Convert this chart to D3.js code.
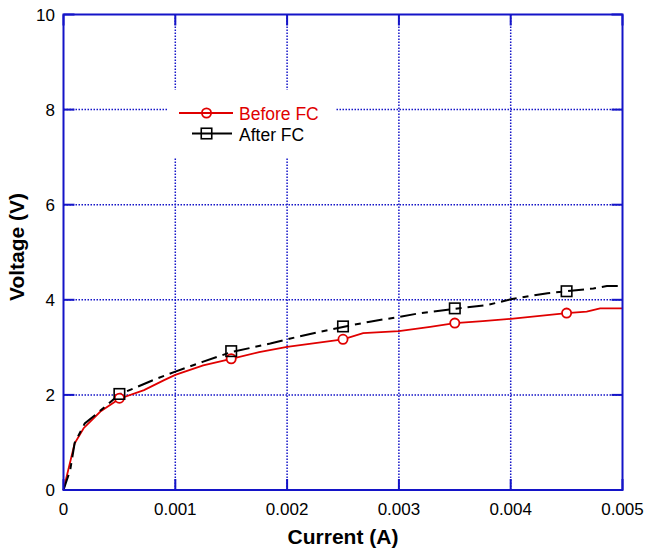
<!DOCTYPE html>
<html>
<head>
<meta charset="utf-8">
<script src="https://cdn.jsdelivr.net/npm/d3@7"></script>
<style>
  html, body { margin: 0; padding: 0; background: #fff; }
  svg { display: block; }
  text { font-family: "Liberation Sans", Arial, Helvetica, sans-serif; }
</style>
</head>
<body>
<svg id="chart" width="647" height="551"></svg>
<script>
// ---- data ----
const currentBefore = [0, 0.00003, 0.0001, 0.00018, 0.00033, 0.0005, 0.00072, 0.0009, 0.001, 0.00125, 0.0015, 0.00175, 0.002, 0.00225, 0.0025, 0.00268, 0.003, 0.00328, 0.0035, 0.00375, 0.004, 0.0045, 0.00468, 0.0048, 0.005];
const voltageBefore = [0, 0.30, 0.98, 1.30, 1.65, 1.92, 2.10, 2.31, 2.42, 2.62, 2.76, 2.90, 3.01, 3.09, 3.17, 3.30, 3.34, 3.43, 3.51, 3.55, 3.60, 3.72, 3.75, 3.82, 3.82];
const currentAfter = [0, 0.00003, 0.00006, 0.0001, 0.00019, 0.0003, 0.0005, 0.00066, 0.0008, 0.001, 0.00125, 0.0015, 0.00185, 0.002, 0.0023, 0.0025, 0.00274, 0.003, 0.00319, 0.0035, 0.00379, 0.004, 0.00433, 0.0045, 0.00474, 0.00486, 0.005];
const voltageAfter = [0, 0.21, 0.42, 0.99, 1.40, 1.61, 2.01, 2.17, 2.31, 2.49, 2.70, 2.90, 3.08, 3.17, 3.33, 3.43, 3.54, 3.64, 3.72, 3.81, 3.89, 4.01, 4.14, 4.18, 4.24, 4.29, 4.29];
const markerCurrent = [0.0005, 0.0015, 0.0025, 0.0035, 0.0045];
const markerBefore = [1.93, 2.76, 3.17, 3.51, 3.72];
const markerAfter = [2.02, 2.92, 3.44, 3.82, 4.18];
const xTicks = [0, 0.001, 0.002, 0.003, 0.004, 0.005];
const xTickLabels = ["0", "0.001", "0.002", "0.003", "0.004", "0.005"];
const yTicks = [0, 2, 4, 6, 8, 10];
const yTickLabels = ["0", "2", "4", "6", "8", "10"];
const seriesNames = ["Before FC", "After FC"];
const xTitle = "Current (A)";
const yTitle = "Voltage (V)";

// ---- layout ----
const L = 63.5, R = 622.5, T = 14.5, B = 490;
const blue = "#1414c8", red = "#e00000";
const svg = d3.select("#chart");
const x = d3.scaleLinear().domain([0, 0.005]).range([L, R]);
const y = d3.scaleLinear().domain([0, 10]).range([B, T]);

// grid (dotted)
const grid = svg.append("g").attr("stroke", blue).attr("stroke-width", 1.5).attr("stroke-dasharray", "1.5,1.5");
grid.selectAll("line.vx").data(xTicks.slice(1, -1)).join("line")
  .attr("x1", d => x(d)).attr("x2", d => x(d)).attr("y1", T).attr("y2", B);
grid.selectAll("line.hy").data(yTicks.slice(1, -1)).join("line")
  .attr("x1", L).attr("x2", R).attr("y1", d => y(d)).attr("y2", d => y(d));

// legend background
svg.append("rect").attr("x", 168).attr("y", 90).attr("width", 167).attr("height", 67).attr("fill", "#fff");

// tick marks (inward, solid)
const tk = svg.append("g").attr("stroke", blue).attr("stroke-width", 2);
const tl = 11;
xTicks.forEach(d => {
  tk.append("line").attr("x1", x(d)).attr("x2", x(d)).attr("y1", B).attr("y2", B - tl);
  tk.append("line").attr("x1", x(d)).attr("x2", x(d)).attr("y1", T).attr("y2", T + tl);
});
yTicks.forEach(d => {
  tk.append("line").attr("x1", L).attr("x2", L + tl).attr("y1", y(d)).attr("y2", y(d));
  tk.append("line").attr("x1", R).attr("x2", R - tl).attr("y1", y(d)).attr("y2", y(d));
});

// lines
const lineGen = d3.line().x(d => x(d[0])).y(d => y(d[1]));
svg.append("path").datum(d3.zip(currentBefore, voltageBefore))
  .attr("d", lineGen).attr("fill", "none").attr("stroke", red).attr("stroke-width", 1.8);
svg.append("path").datum(d3.zip(currentAfter, voltageAfter))
  .attr("d", lineGen).attr("fill", "none").attr("stroke", "#000").attr("stroke-width", 2)
  .attr("stroke-dasharray", "16,6,6,6");

// markers
svg.selectAll("circle.mb").data(d3.zip(markerCurrent, markerBefore)).join("circle")
  .attr("cx", d => x(d[0])).attr("cy", d => y(d[1])).attr("r", 4.6)
  .attr("fill", "#fff").attr("stroke", red).attr("stroke-width", 1.8);
const sq = 10.5;
svg.selectAll("rect.ma").data(d3.zip(markerCurrent, markerAfter)).join("rect")
  .attr("x", d => x(d[0]) - sq / 2).attr("y", d => y(d[1]) - sq / 2)
  .attr("width", sq).attr("height", sq)
  .attr("fill", "none").attr("stroke", "#000").attr("stroke-width", 1.6);

// frame
svg.append("rect").attr("x", L).attr("y", T).attr("width", R - L).attr("height", B - T)
  .attr("fill", "none").attr("stroke", blue).attr("stroke-width", 2);

// tick labels
svg.append("g").selectAll("text").data(xTicks).join("text")
  .attr("x", d => x(d)).attr("y", 515).attr("text-anchor", "middle")
  .attr("font-size", 17).attr("fill", "#000").text((d, i) => xTickLabels[i]);
svg.append("g").selectAll("text").data(yTicks).join("text")
  .attr("x", 55).attr("y", d => y(d)).attr("dy", "0.36em").attr("text-anchor", "end")
  .attr("font-size", 17).attr("fill", "#000").text((d, i) => yTickLabels[i]);

// axis titles
svg.append("text").attr("x", 343).attr("y", 544).attr("text-anchor", "middle")
  .attr("font-size", 21).attr("font-weight", "bold").text(xTitle);
svg.append("text").attr("transform", "translate(24,247) rotate(-90)").attr("text-anchor", "middle")
  .attr("font-size", 21).attr("font-weight", "bold").text(yTitle);

// legend
const lg = svg.append("g");
lg.append("line").attr("x1", 179).attr("x2", 233).attr("y1", 113).attr("y2", 113)
  .attr("stroke", red).attr("stroke-width", 1.8);
lg.append("circle").attr("cx", 206.5).attr("cy", 113).attr("r", 4.6)
  .attr("fill", "none").attr("stroke", red).attr("stroke-width", 1.8);
lg.append("text").attr("x", 239).attr("y", 120).attr("font-size", 17.5).attr("fill", red).text(seriesNames[0]);
lg.append("line").attr("x1", 192).attr("x2", 232).attr("y1", 133.5).attr("y2", 133.5)
  .attr("stroke", "#000").attr("stroke-width", 1.8);
lg.append("rect").attr("x", 206.5 - sq / 2).attr("y", 133.5 - sq / 2).attr("width", sq).attr("height", sq)
  .attr("fill", "none").attr("stroke", "#000").attr("stroke-width", 1.6);
lg.append("text").attr("x", 239).attr("y", 141).attr("font-size", 17.5).attr("fill", "#000").text(seriesNames[1]);
</script>
</body>
</html>
